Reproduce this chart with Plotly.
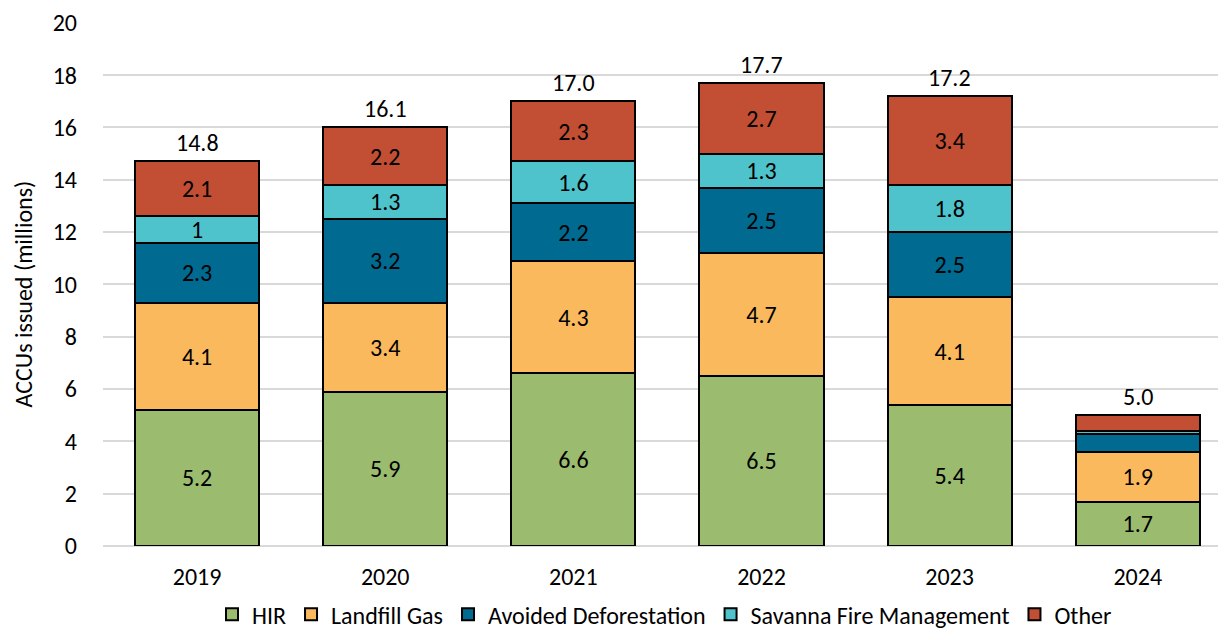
import plotly.graph_objects as go

years = ["2019", "2020", "2021", "2022", "2023", "2024"]
hir = [5.2, 5.9, 6.6, 6.5, 5.4, 1.7]
landfill = [4.1, 3.4, 4.3, 4.7, 4.1, 1.9]
avoided = [2.3, 3.2, 2.2, 2.5, 2.5, 0.7]
savanna = [1.0, 1.3, 1.6, 1.3, 1.8, 0.1]
other = [2.1, 2.2, 2.3, 2.7, 3.4, 0.6]
totals = ["14.8", "16.1", "17.0", "17.7", "17.2", "5.0"]
y_ticks = [0, 2, 4, 6, 8, 10, 12, 14, 16, 18, 20]

hir_lbl = ["5.2", "5.9", "6.6", "6.5", "5.4", "1.7"]
landfill_lbl = ["4.1", "3.4", "4.3", "4.7", "4.1", "1.9"]
avoided_lbl = ["2.3", "3.2", "2.2", "2.5", "2.5", ""]
savanna_lbl = ["1", "1.3", "1.6", "1.3", "1.8", ""]
other_lbl = ["2.1", "2.2", "2.3", "2.7", "3.4", ""]

series = [
    ("HIR", hir, hir_lbl, "#9BBB6F"),
    ("Landfill Gas", landfill, landfill_lbl, "#FBB95E"),
    ("Avoided Deforestation", avoided, avoided_lbl, "#006A91"),
    ("Savanna Fire Management", savanna, savanna_lbl, "#4FC3CC"),
    ("Other", other, other_lbl, "#C24F34"),
]

FONT = "Carlito, Calibri, Lato, sans-serif"
FS = 24

fig = go.Figure()
for name, vals, lbls, col in series:
    fig.add_trace(go.Bar(
        x=years, y=vals, name=name, text=lbls, texttemplate="%{text}",
        textposition="inside", insidetextanchor="middle", textangle=0,
        textfont=dict(size=FS, color="black", family=FONT),
        marker=dict(color=col, line=dict(color="black", width=2)),
        width=0.66, hoverinfo="x+y+name",
    ))

stack_tops = [h + l + a + s + o for h, l, a, s, o in zip(hir, landfill, avoided, savanna, other)]
for i, (top, lab) in enumerate(zip(stack_tops, totals)):
    fig.add_annotation(x=i, y=top, xref="x", yref="y", text=lab, showarrow=False,
                       yanchor="bottom", yshift=2,
                       font=dict(size=FS, color="black", family=FONT))

fig.add_annotation(xref="paper", yref="paper", x=0, y=0.48, xshift=-80,
                   text="ACCUs issued (millions)", textangle=-90, showarrow=False,
                   xanchor="center", yanchor="middle", borderpad=0,
                   font=dict(size=24, color="black", family=FONT))

fig.update_layout(
    width=1218, height=622,
    barmode="stack",
    plot_bgcolor="white", paper_bgcolor="white",
    margin=dict(l=95, r=0, t=14, b=84, autoexpand=False),
    font=dict(family=FONT, size=FS, color="black"),
    uniformtext=dict(minsize=FS, mode="show"),
    legend=dict(orientation="h", x=0.5, xanchor="center", xref="paper",
                y=-0.088, yanchor="top", font=dict(size=FS, family=FONT),
                traceorder="normal", itemwidth=30, tracegroupgap=0),
    showlegend=True,
)
fig.update_xaxes(type="category", range=[-0.5, 5.469], showgrid=False, automargin=False,
                 showline=False, ticks="", ticklabelstandoff=14,
                 tickfont=dict(size=FS, family=FONT))
fig.update_yaxes(range=[0, 20.03], tickmode="array", tickvals=y_ticks,
                 ticktext=[str(v) for v in y_ticks],
                 showgrid=True, gridcolor="#D9D9D9", automargin=False,
                 gridwidth=1.5, zeroline=True, zerolinecolor="#D9D9D9",
                 zerolinewidth=1.5, showline=False, ticks="", ticklabelstandoff=25,
                 tickfont=dict(size=FS, family=FONT))

fig.write_html("out.html")
